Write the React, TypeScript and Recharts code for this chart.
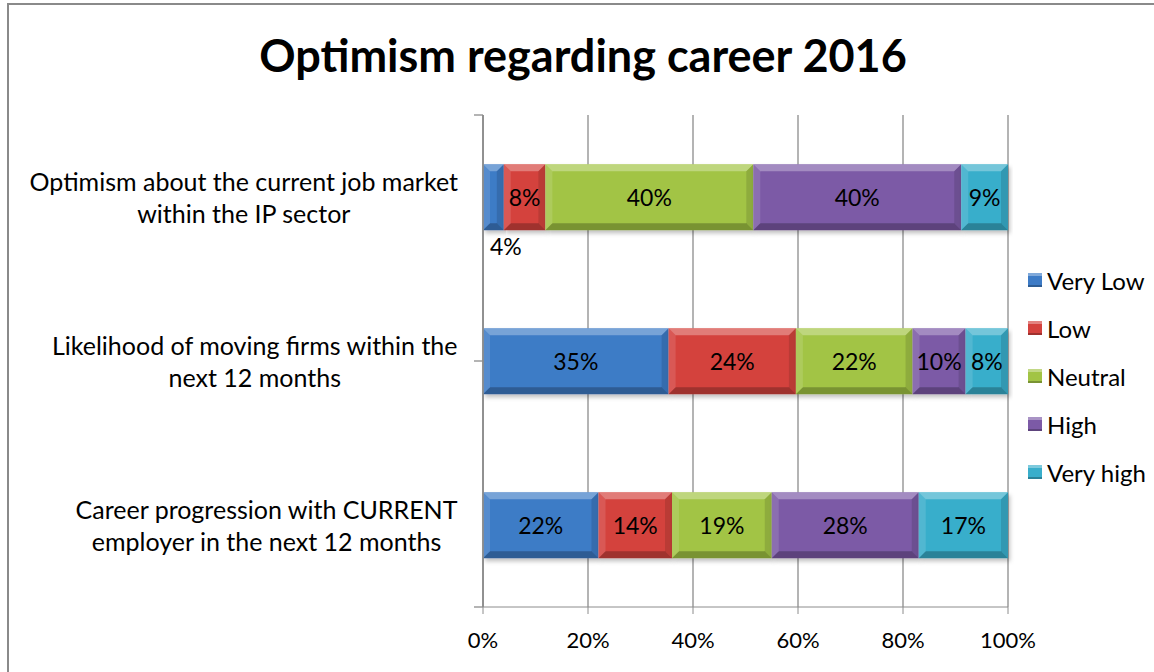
import React from 'react';
import {
  BarChart,
  Bar,
  XAxis,
  YAxis,
  CartesianGrid,
  LabelList,
} from 'recharts';

const categories = [
  'Optimism about the current job market\nwithin the IP sector',
  'Likelihood of moving firms within the\nnext 12 months',
  'Career progression with CURRENT\nemployer in the next 12 months',
];

const veryLow = [4, 35, 22];
const low = [8, 24, 14];
const neutral = [40, 22, 19];
const high = [40, 10, 28];
const veryHigh = [9, 8, 17];

const xTicks = [0, 0.2, 0.4, 0.6, 0.8, 1];
const edgeTicks = [0, 1, 2, 3];

const series = [
  { key: 'veryLow', name: 'Very Low', color: '#3D7BC6', values: veryLow },
  { key: 'low', name: 'Low', color: '#D4423E', values: low },
  { key: 'neutral', name: 'Neutral', color: '#A2C445', values: neutral },
  { key: 'high', name: 'High', color: '#7C5AA6', values: high },
  { key: 'veryHigh', name: 'Very high', color: '#39AECB', values: veryHigh },
];

const data = categories.map((name, i) => {
  const row: Record<string, any> = { name };
  series.forEach((s) => {
    row[s.key] = s.values[i];
  });
  return row;
});

const FONT = 'Lato, "Open Sans", sans-serif';

let ctx: CanvasRenderingContext2D | null = null;
function measure(text: string, font: string) {
  if (!ctx) ctx = document.createElement('canvas').getContext('2d');
  if (!ctx) return text.length * 10;
  ctx.font = font;
  return ctx.measureText(text).width;
}

// two-line category label, lines centred, block right-aligned
function CategoryTick(props: any) {
  const { x, y, payload } = props;
  const lines = String(payload.value).split('\n');
  const w = Math.max(...lines.map((l) => measure(l, `25px ${FONT}`)));
  const cx = x - w / 2;
  const lh = 32;
  return (
    <g>
      {lines.map((l, i) => (
        <text
          key={i}
          x={cx}
          y={y + (i - (lines.length - 1) / 2) * lh}
          textAnchor="middle"
          dominantBaseline="central"
          fontSize={25}
          fontFamily={FONT}
          fill="#000"
        >
          {l}
        </text>
      ))}
    </g>
  );
}

function EmptyTick() {
  return <g />;
}

// bevelled bar segment, Office-2007 style
function BevelBar(props: any) {
  const { x, y, width, height, fill } = props;
  if (!width || !height) return null;
  const b = Math.min(7, width / 2, height / 2);
  const r = x + width;
  const btm = y + height;
  return (
    <g filter="url(#barShadow)">
      <rect x={x} y={y} width={width} height={height} fill={fill} />
      <polygon points={`${x},${y} ${r},${y} ${r - b},${y + b} ${x + b},${y + b}`} fill="#fff" fillOpacity={0.3} />
      <polygon points={`${x},${y} ${x + b},${y + b} ${x + b},${btm - b} ${x},${btm}`} fill="#fff" fillOpacity={0.12} />
      <polygon points={`${r},${y} ${r},${btm} ${r - b},${btm - b} ${r - b},${y + b}`} fill="#000" fillOpacity={0.12} />
      <polygon points={`${x},${btm} ${x + b},${btm - b} ${r - b},${btm - b} ${r},${btm}`} fill="#000" fillOpacity={0.25} />
    </g>
  );
}

function SegmentLabel(props: any) {
  const { x, y, width, height, value } = props;
  const narrow = width < 26;
  return (
    <text
      x={narrow ? x + 7 : x + width / 2}
      y={narrow ? y + height + 16 : y + height / 2}
      textAnchor={narrow ? 'start' : 'middle'}
      dominantBaseline="central"
      fontSize={23}
      fontFamily={FONT}
      fill="#000"
    >
      {`${value}%`}
    </text>
  );
}

export default function App() {
  return (
    <div
      style={{
        position: 'absolute',
        left: 0,
        top: 0,
        width: 1154,
        height: 672,
        background: '#fff',
        overflow: 'hidden',
        fontFamily: FONT,
      }}
    >
      <div
        style={{
          position: 'absolute',
          left: 7,
          top: 3,
          width: 1160,
          height: 680,
          borderTop: '2px solid #8a8a8a',
          borderLeft: '2px solid #8a8a8a',
        }}
      />
      <div
        style={{
          position: 'absolute',
          left: 0,
          width: 1166,
          top: 28,
          textAlign: 'center',
          fontSize: 45,
          fontWeight: 700,
          color: '#000',
        }}
      >
        Optimism regarding career 2016
      </div>

      <div style={{ position: 'absolute', left: 0, top: 0 }}>
        <BarChart
          width={1154}
          height={672}
          data={data}
          layout="vertical"
          stackOffset="expand"
          barCategoryGap="30%"
          margin={{ top: 115, right: 146, bottom: 0, left: 8 }}
        >
          <defs>
            <filter id="barShadow" x="-5%" y="-20%" width="115%" height="160%">
              <feDropShadow dx="2" dy="3" stdDeviation="2" floodColor="#000" floodOpacity="0.25" />
            </filter>
          </defs>
          <CartesianGrid horizontal={false} stroke="#8c8c8c" strokeWidth={1.3} />
          <XAxis
            type="number"
            domain={[0, 1]}
            ticks={xTicks}
            tickFormatter={(v) => `${Math.round(v * 100)}%`}
            stroke="#8c8c8c"
            tickSize={7}
            tickMargin={18}
            height={65}
            tick={{ fill: '#000', fontSize: 22, fontFamily: FONT }}
          />
          <YAxis
            type="category"
            dataKey="name"
            width={475}
            stroke="#8c8c8c"
            strokeWidth={1.3}
            tickLine={false}
            tickMargin={19}
            tick={<CategoryTick />}
            interval={0}
          />
          <YAxis
            yAxisId="edge"
            type="number"
            domain={[0, 3]}
            ticks={edgeTicks}
            interval={0}
            mirror
            tick={<EmptyTick />}
            tickSize={-9}
            stroke="#8c8c8c"
            strokeWidth={1.3}
            allowDataOverflow
          />
          {series.map((s) => (
            <Bar
              key={s.key}
              dataKey={s.key}
              name={s.name}
              stackId="a"
              fill={s.color}
              shape={<BevelBar />}
              isAnimationActive={false}
            >
              <LabelList dataKey={s.key} content={<SegmentLabel />} />
            </Bar>
          ))}
        </BarChart>
      </div>

      <div style={{ position: 'absolute', left: 1028, top: 256 }}>
        {series.map((s) => (
          <div key={s.key} style={{ display: 'flex', alignItems: 'center', height: 48 }}>
            <span
              style={{
                width: 14,
                height: 14,
                marginRight: 5,
                background: s.color,
                boxShadow: 'inset 0 3px 0 rgba(255,255,255,0.35), inset 0 -2px 0 rgba(0,0,0,0.25)',
              }}
            />
            <span style={{ fontSize: 24, color: '#000' }}>{s.name}</span>
          </div>
        ))}
      </div>
    </div>
  );
}
